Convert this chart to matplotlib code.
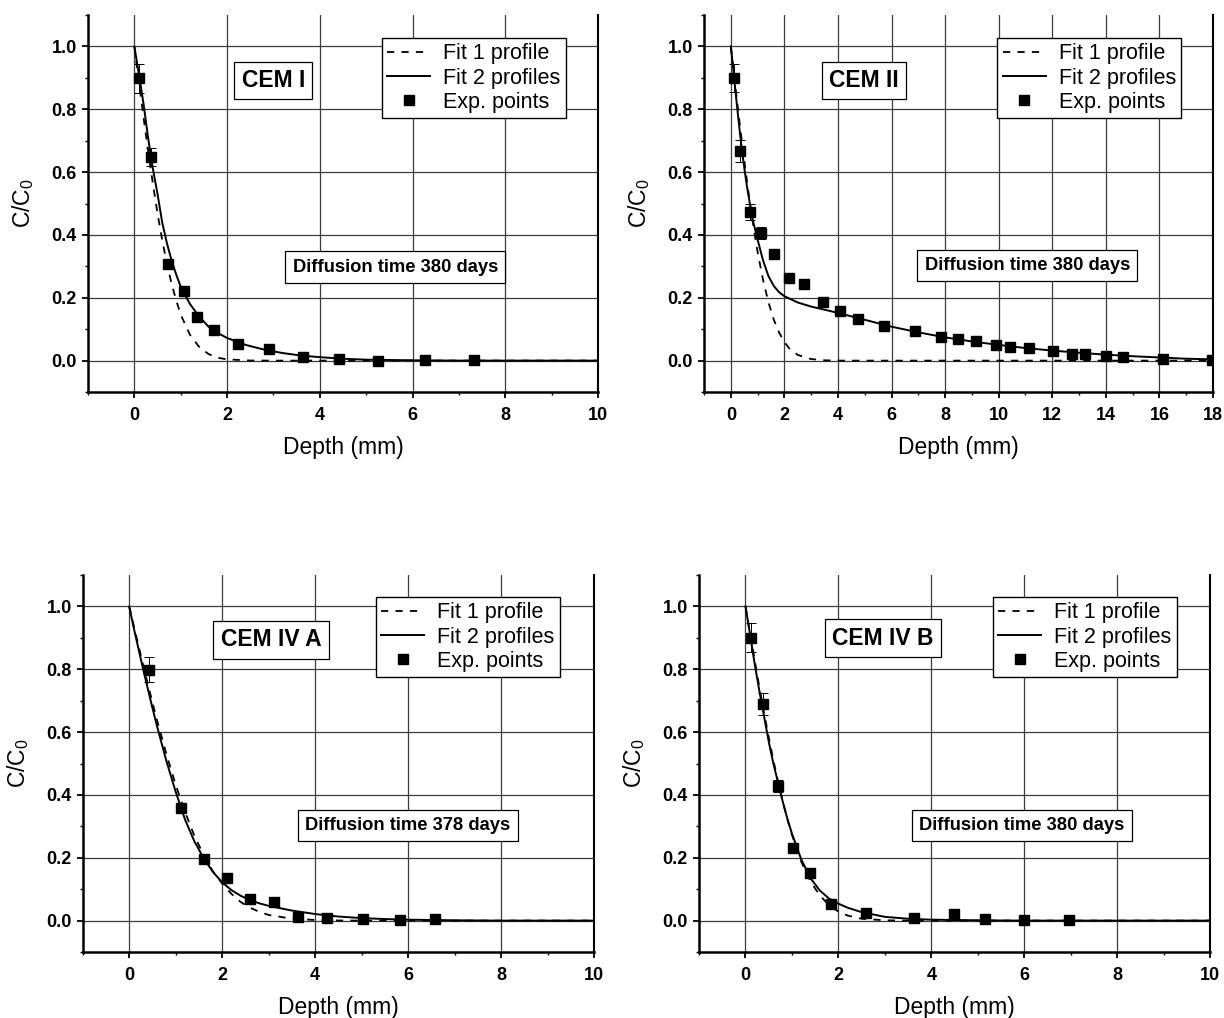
import matplotlib
matplotlib.use("Agg")
import matplotlib.pyplot as plt
from matplotlib.ticker import MultipleLocator, FormatStrFormatter

plt.rcParams["font.family"] = ["Liberation Sans", "DejaVu Sans"]
plt.rcParams["mathtext.fontset"] = "custom"
plt.rcParams["mathtext.rm"] = "Liberation Sans"

# ---- CEM I ----
cem1_x = [0.11, 0.36, 0.72, 1.08, 1.36, 1.72, 2.24, 2.91, 3.64, 4.41, 5.25, 6.27, 7.33]
cem1_y = [0.899, 0.648, 0.306, 0.221, 0.138, 0.098, 0.053, 0.038, 0.013, 0.005, 0.0, 0.002, 0.001]
cem1_err = [0.046, 0.03, 0.015, 0.008, 0.006, 0.005, 0.004, 0.004, 0.003, 0.002, 0.002, 0.002, 0.002]
cem1_fit1_x = [0, 0.1, 0.2, 0.3, 0.4, 0.5, 0.6, 0.7, 0.8, 0.9, 1.0, 1.2, 1.4, 1.6, 1.8, 2.0, 2.5, 3.0, 10]
cem1_fit1_y = [1.0, 0.885, 0.772, 0.664, 0.562, 0.468, 0.384, 0.310, 0.246, 0.193, 0.146, 0.082, 0.043,
               0.021, 0.009, 0.004, 0.0003, 0.0, 0.0]
cem1_fit2_x = [0, 0.1, 0.2, 0.3, 0.4, 0.5, 0.6, 0.7, 0.8, 0.9, 1.0, 1.2, 1.4, 1.6, 1.8, 2.0, 2.4, 2.8,
               3.2, 3.6, 4.0, 4.5, 5.0, 6.0, 7.0, 10]
cem1_fit2_y = [1.0, 0.91, 0.815, 0.705, 0.61, 0.53, 0.44, 0.375, 0.32, 0.275, 0.235, 0.18, 0.14, 0.108,
               0.088, 0.072, 0.05, 0.035, 0.024, 0.016, 0.011, 0.006, 0.003, 0.001, 0.0, 0.0]

# ---- CEM II ----
cem2_x = [0.10, 0.35, 0.71, 1.13, 1.63, 2.16, 2.75, 3.45, 4.09, 4.76, 5.70, 6.87, 7.86, 8.49, 9.17,
          9.91, 10.44, 11.15, 12.03, 12.74, 13.21, 14.02, 14.64, 16.13, 17.96]
cem2_y = [0.899, 0.666, 0.473, 0.406, 0.340, 0.264, 0.245, 0.187, 0.157, 0.131, 0.109, 0.093, 0.075,
          0.070, 0.061, 0.049, 0.042, 0.040, 0.031, 0.020, 0.020, 0.015, 0.012, 0.006, 0.003]
cem2_err = [0.045, 0.035, 0.025, 0.02, 0.015, 0.006, 0.005, 0.005, 0.004, 0.004, 0.004, 0.004, 0.003,
            0.003, 0.003, 0.003, 0.003, 0.003, 0.003, 0.002, 0.002, 0.002, 0.002, 0.002, 0.002]
cem2_fit1_x = [0, 0.1, 0.2, 0.3, 0.4, 0.5, 0.6, 0.7, 0.8, 0.9, 1.0, 1.2, 1.4, 1.6, 1.8, 2.0, 2.2, 2.5,
               3.0, 3.5, 4.0, 18]
cem2_fit1_y = [1.0, 0.925, 0.850, 0.777, 0.706, 0.637, 0.572, 0.509, 0.451, 0.396, 0.346, 0.258, 0.187,
               0.131, 0.090, 0.059, 0.037, 0.018, 0.005, 0.001, 0.0, 0.0]
cem2_fit2_x = [0, 0.1, 0.2, 0.3, 0.4, 0.5, 0.6, 0.8, 1.0, 1.2, 1.4, 1.6, 1.8, 2.0, 2.5, 3.0, 3.5, 4.0,
               5.0, 6.0, 7.0, 8.0, 9.0, 10, 11, 12, 13, 14, 15, 16, 17, 18]
cem2_fit2_y = [1.0, 0.92, 0.835, 0.755, 0.68, 0.615, 0.555, 0.455, 0.385, 0.32, 0.27, 0.238, 0.218,
               0.205, 0.185, 0.172, 0.162, 0.152, 0.13, 0.108, 0.09, 0.074, 0.061, 0.05, 0.04, 0.032,
               0.025, 0.019, 0.014, 0.01, 0.006, 0.004]

# ---- CEM IV A ----
cem4a_x = [0.43, 1.12, 1.61, 2.10, 2.59, 3.12, 3.63, 4.25, 5.03, 5.83, 6.57]
cem4a_y = [0.799, 0.360, 0.195, 0.137, 0.069, 0.059, 0.013, 0.007, 0.006, 0.003, 0.005]
cem4a_err = [0.04, 0.015, 0.008, 0.006, 0.005, 0.004, 0.003, 0.002, 0.002, 0.002, 0.002]
cem4a_fit1_x = [0, 0.2, 0.4, 0.6, 0.8, 1.0, 1.2, 1.4, 1.6, 1.8, 2.0, 2.2, 2.4, 2.6, 2.8, 3.0, 3.5, 4.0,
                4.5, 5.0, 10]
cem4a_fit1_y = [1.0, 0.875, 0.753, 0.637, 0.530, 0.432, 0.346, 0.271, 0.209, 0.157, 0.118, 0.085, 0.059,
                0.041, 0.028, 0.018, 0.006, 0.002, 0.0004, 0.0, 0.0]
cem4a_fit2_x = [0, 0.1, 0.2, 0.3, 0.4, 0.5, 0.6, 0.8, 1.0, 1.2, 1.4, 1.6, 1.8, 2.0, 2.2, 2.4, 2.6, 2.8,
                3.0, 3.5, 4.0, 4.5, 5.0, 5.5, 6.0, 7.0, 8.0, 10]
cem4a_fit2_y = [1.0, 0.93, 0.865, 0.80, 0.738, 0.677, 0.618, 0.508, 0.41, 0.322, 0.253, 0.199, 0.155,
                0.122, 0.097, 0.079, 0.065, 0.055, 0.047, 0.032, 0.021, 0.013, 0.008, 0.005, 0.003,
                0.001, 0.0, 0.0]

# ---- CEM IV B ----
cem4b_x = [0.11, 0.37, 0.70, 1.03, 1.38, 1.85, 2.60, 3.63, 4.49, 5.16, 6.00, 6.97]
cem4b_y = [0.900, 0.689, 0.429, 0.232, 0.150, 0.052, 0.024, 0.008, 0.020, 0.004, 0.001, 0.002]
cem4b_err = [0.046, 0.035, 0.02, 0.01, 0.008, 0.005, 0.004, 0.003, 0.003, 0.002, 0.002, 0.002]
cem4b_fit1_x = [0, 0.1, 0.2, 0.3, 0.4, 0.5, 0.6, 0.7, 0.8, 0.9, 1.0, 1.2, 1.4, 1.6, 1.8, 2.0, 2.2, 2.5,
                3.0, 3.5, 10]
cem4b_fit1_y = [1.0, 0.913, 0.827, 0.742, 0.661, 0.584, 0.511, 0.443, 0.381, 0.324, 0.273, 0.188, 0.125,
                0.080, 0.049, 0.029, 0.016, 0.006, 0.001, 0.0, 0.0]
cem4b_fit2_x = [0, 0.1, 0.2, 0.3, 0.4, 0.5, 0.6, 0.7, 0.8, 0.9, 1.0, 1.2, 1.4, 1.6, 1.8, 2.0, 2.2, 2.5,
                3.0, 3.5, 4.0, 5.0, 6.0, 10]
cem4b_fit2_y = [1.0, 0.91, 0.815, 0.73, 0.65, 0.57, 0.5, 0.44, 0.38, 0.325, 0.277, 0.195, 0.135, 0.096,
                0.07, 0.054, 0.041, 0.027, 0.012, 0.006, 0.003, 0.001, 0.0, 0.0]

panel_names = ["CEM I", "CEM II", "CEM IV A", "CEM IV B"]
diffusion_labels = ["Diffusion time 380 days", "Diffusion time 380 days",
                    "Diffusion time 378 days", "Diffusion time 380 days"]
x_max = [10, 18, 10, 10]


def draw_panel(ax, px, py, perr, f1x, f1y, f2x, f2y, name, dlabel, xmax,
               name_pos, dlabel_pos, leg_anchor):
    ax.grid(True, which="major", color="#3c3c3c", lw=0.9, zorder=0)
    ax.set_axisbelow(True)
    ax.plot(f1x, f1y, color="black", lw=1.3, ls=(0, (4, 4)), label="Fit 1 profile", zorder=3)
    ax.plot(f2x, f2y, color="black", lw=1.4, label="Fit 2 profiles", zorder=3)
    ax.errorbar(px, py, yerr=perr, fmt="none", ecolor="black", elinewidth=0.7,
                capsize=3.5, capthick=0.7, zorder=4)
    ax.plot(px, py, "s", color="black", ms=7, label="Exp. points", zorder=5)

    ax.set_xlim(-1, xmax)
    ax.set_ylim(-0.1, 1.1)
    ax.xaxis.set_major_locator(MultipleLocator(2))
    ax.xaxis.set_minor_locator(MultipleLocator(1))
    ax.yaxis.set_major_locator(MultipleLocator(0.2))
    ax.yaxis.set_minor_locator(MultipleLocator(0.1))
    ax.xaxis.set_major_formatter(FormatStrFormatter("%d"))
    ax.yaxis.set_major_formatter(FormatStrFormatter("%.1f"))
    ax.tick_params(which="major", direction="out", length=4, width=1.3, labelsize=13)
    ax.tick_params(axis="x", which="major", pad=6.5)
    ax.tick_params(axis="y", which="major", pad=4)
    ax.tick_params(which="minor", direction="out", length=2.5, width=1.0)
    for lbl in ax.get_xticklabels() + ax.get_yticklabels():
        lbl.set_fontweight("bold")

    ax.spines["top"].set_visible(False)
    ax.spines["left"].set_linewidth(1.8)
    ax.spines["bottom"].set_linewidth(1.8)
    ax.spines["right"].set_linewidth(1.5)

    ax.set_xlabel("Depth (mm)", fontsize=16.5, labelpad=9)
    ax.set_ylabel(r"C/C$_\mathregular{0}$", fontsize=16.5, labelpad=11)

    ax.text(name_pos[0], name_pos[1], name, fontsize=16.5, fontweight="bold",
            ha="center", va="center", zorder=6,
            bbox=dict(boxstyle="square,pad=0.32", fc="white", ec="black", lw=0.9))
    ax.text(dlabel_pos[0], dlabel_pos[1], dlabel, fontsize=13.2, fontweight="bold",
            ha="center", va="center", zorder=6,
            bbox=dict(boxstyle="square,pad=0.4", fc="white", ec="black", lw=0.9))

    leg = ax.legend(loc="upper right", bbox_to_anchor=leg_anchor, fontsize=15.5,
                    frameon=True, fancybox=False, edgecolor="black", framealpha=1,
                    borderpad=0.25, labelspacing=0.15, handlelength=2.0,
                    handletextpad=0.6, borderaxespad=0)
    leg.get_frame().set_linewidth(1.0)
    leg.set_zorder(7)


fig = plt.figure(figsize=(12.24, 10.18), dpi=100)
ax1 = fig.add_axes([0.0719, 0.6149, 0.4167, 0.3703])
ax2 = fig.add_axes([0.5752, 0.6149, 0.4158, 0.3703])
ax3 = fig.add_axes([0.0676, 0.0648, 0.4177, 0.3703])
ax4 = fig.add_axes([0.5711, 0.0648, 0.4175, 0.3703])

draw_panel(ax1, cem1_x, cem1_y, cem1_err, cem1_fit1_x, cem1_fit1_y, cem1_fit2_x, cem1_fit2_y,
           panel_names[0], diffusion_labels[0], x_max[0], (3.0, 0.892), (5.63, 0.297), (0.937, 0.939))
draw_panel(ax2, cem2_x, cem2_y, cem2_err, cem2_fit1_x, cem2_fit1_y, cem2_fit2_x, cem2_fit2_y,
           panel_names[1], diffusion_labels[1], x_max[1], (4.98, 0.892), (11.07, 0.303), (0.938, 0.939))
draw_panel(ax3, cem4a_x, cem4a_y, cem4a_err, cem4a_fit1_x, cem4a_fit1_y, cem4a_fit2_x, cem4a_fit2_y,
           panel_names[2], diffusion_labels[2], x_max[2], (3.05, 0.894), (5.99, 0.303), (0.933, 0.942))
draw_panel(ax4, cem4b_x, cem4b_y, cem4b_err, cem4b_fit1_x, cem4b_fit1_y, cem4b_fit2_x, cem4b_fit2_y,
           panel_names[3], diffusion_labels[3], x_max[3], (2.96, 0.899), (5.95, 0.303), (0.935, 0.942))

fig.savefig("out.png", dpi=100)
